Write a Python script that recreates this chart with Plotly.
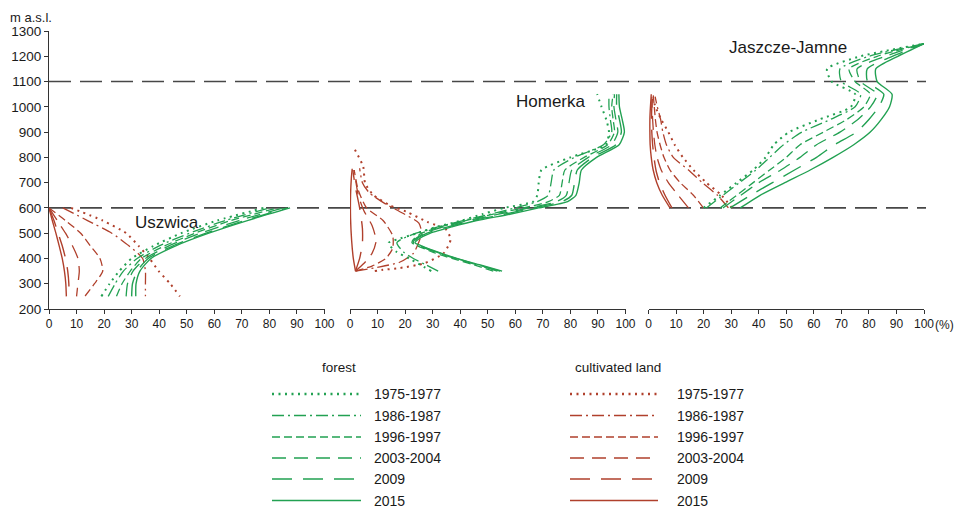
import plotly.graph_objects as go

# The page body adds an 8px margin, so the figure is laid out 8px smaller
OFF = 8
W, H = 966 - OFF, 509 - OFF
GREEN = "#22a152"
RED = "#b0402c"
FONT = "Liberation Sans, Arial, sans-serif"
TXT = "#1a1a1a"

PERIODS = ["1975-1977", "1986-1987", "1996-1997", "2003-2004", "2009", "2015"]

# ---------------- Uszwica ----------------
usz_forest_h = [250, 300, 350, 400, 450, 500, 550, 600]
usz_forest_1975 = [19, 22, 25.5, 30, 38, 48, 61, 78]
usz_forest_1986 = [21.5, 24, 27, 32, 40, 51, 64, 80]
usz_forest_1996 = [24.5, 26.5, 29.5, 33.5, 42, 53, 66, 83]
usz_forest_2003 = [28, 28.5, 30.5, 35, 43.5, 55, 69, 85]
usz_forest_2009 = [30, 30.3, 32, 36, 45, 57, 71, 86.5]
usz_forest_2015 = [31.5, 31.6, 33, 37, 46, 58, 72, 87.5]

usz_cult_h = [600, 550, 500, 450, 400, 350, 300, 250]
usz_cult_1975 = [8, 19.5, 28, 32.5, 36.5, 39.8, 44, 47.5]
usz_cult_1986 = [5, 14, 22.8, 29, 34, 35, 35, 35]
usz_cult_1996 = [0, 6, 11.5, 15, 18.5, 19.5, 16.5, 13]
usz_cult_2003 = [0, 3, 6, 8.5, 10.5, 11, 10.5, 10]
usz_cult_2009 = [0, 1.8, 3.3, 4.8, 6, 6.8, 7.2, 7.2]
usz_cult_2015 = [0, 1.2, 2.5, 3.7, 4.8, 5.6, 6.1, 6.3]

# ---------------- Homerka ----------------
hom_forest_h = [350, 375, 400, 425, 450, 462, 475, 500, 525, 550, 575, 600, 625, 650,
                700, 750, 800, 850, 900, 950, 1000, 1050]
hom_forest_1975 = [29.5, 25.5, 21.5, 17, 14.5, 14, 17, 24.5, 31.5, 40.5, 48, 56, 66.5, 68,
                   68.5, 69.5, 80, 92.8, 94, 93, 91.3, 89.7]
hom_forest_1986 = [32, 27.5, 23, 19.5, 17.5, 17, 18.5, 24, 32, 41, 51, 60, 68, 72,
                   73, 74, 81.5, 92, 95, 94.5, 94, 94]
hom_forest_1996 = [52, 45, 37, 30, 24.5, 22.5, 23, 26, 33, 42, 52, 63, 72, 76,
                   77, 78, 85, 93.5, 96, 95.5, 95, 95.5]
hom_forest_2003 = [53.5, 46, 38, 31, 25, 23, 23.5, 27, 34, 43, 54, 65, 75, 78.5,
                   79.5, 80.5, 86.5, 95, 97.2, 96.5, 95.8, 96]
hom_forest_2009 = [54.5, 46.5, 38.5, 31.5, 25.5, 23.3, 24, 28, 35.5, 44.5, 56, 66.5, 77, 80.5,
                   81.5, 82.5, 88, 96.5, 98.5, 97.8, 96.8, 96.8]
hom_forest_2015 = [55.2, 47, 38.8, 32, 26, 23.6, 24.7, 29.2, 37, 46, 58, 68.5, 79, 82,
                   83.2, 84, 89.5, 97.7, 99.6, 98.8, 97.8, 97.6]

hom_cult_1975_h = [350, 355, 362, 381, 421, 474, 513, 545, 585, 610, 651, 697, 763, 842]
hom_cult_1975 = [9, 12, 18, 27, 34, 36.5, 35, 28, 20.5, 14.5, 8.5, 5.5, 4.8, 1.2]
hom_cult_1986_h = [350, 365, 385, 420, 465, 500, 540, 580, 615, 660, 700, 757]
hom_cult_1986 = [2, 10, 18, 23, 25, 26, 25, 19, 13, 7, 4.5, 3.5]
hom_cult_1996_h = [350, 370, 400, 440, 490, 550, 600, 670, 750]
hom_cult_1996 = [2, 8, 13, 15.5, 15.5, 12, 6, 3, 1.5]
hom_cult_2003_h = [350, 380, 420, 470, 530, 590, 650, 750]
hom_cult_2003 = [2, 5, 8, 9.5, 8, 5, 3, 1.5]
hom_cult_2009_h = [350, 400, 460, 520, 600, 680, 750]
hom_cult_2009 = [2, 3.5, 4.5, 4.5, 3.5, 2, 1]
hom_cult_2015_h = [350, 400, 470, 560, 650, 720, 755]
hom_cult_2015 = [2, 1.2, 0.6, 0.2, 0.2, 0.5, 0.8]

# ---------------- Jaszcze-Jamne ----------------
jj_forest_h = [600, 650, 700, 750, 800, 850, 900, 950, 1000, 1050, 1100, 1150, 1200, 1250]
jj_forest_1975 = [20, 26, 32, 38, 42.5, 45.5, 51, 62, 73.5, 75, 66.5, 64.8, 77, 100]
jj_forest_1986 = [21, 27, 33, 39, 44, 49, 55.7, 66, 75, 77, 70, 69.5, 80, 100]
jj_forest_1996 = [26, 32, 38, 44, 50, 55, 63.5, 72, 78.2, 80.5, 75, 72.8, 83, 100]
jj_forest_2003 = [27, 33.5, 40, 48, 55, 61, 69.5, 76, 80.6, 83, 77, 75.7, 86, 100]
jj_forest_2009 = [29.6, 37, 45, 53, 61, 67.5, 75.5, 80, 83.6, 85.4, 79.5, 79.4, 88.5, 100]
jj_forest_2015 = [33.3, 40.5, 49.5, 58.7, 67, 74.5, 80.5, 84.5, 87.5, 88.4, 83, 82.5, 90.5, 100]

jj_cult_1975_h = [600, 650, 700, 750, 800, 850, 900, 950, 1000, 1020]
jj_cult_1975 = [30.3, 26.5, 21, 16.3, 12.5, 9.5, 7.2, 4.6, 2.5, 2]
jj_cult_1986_h = [600, 650, 700, 750, 800, 850, 900, 950, 1000, 1040]
jj_cult_1986 = [29, 25, 19.5, 14.5, 9, 6.5, 5.2, 4.4, 3.2, 2.4]
jj_cult_1996_h = [600, 650, 700, 750, 800, 850, 900, 950, 1000, 1050]
jj_cult_1996 = [19.9, 16.3, 11.5, 7.8, 5.6, 4.2, 3.1, 2.5, 2.1, 1.7]
jj_cult_2003_h = [600, 650, 700, 750, 800, 850, 900, 950, 1000, 1040]
jj_cult_2003 = [14.5, 10.8, 7.2, 4.6, 3.1, 2.3, 1.8, 1.5, 1.3, 1.2]
jj_cult_2009_h = [600, 650, 700, 750, 800, 850, 900, 950, 1000, 1045]
jj_cult_2009 = [8.5, 6, 4, 2.7, 2, 1.5, 1.2, 1.1, 1.2, 1.5]
jj_cult_2015_h = [600, 650, 700, 750, 800, 850, 900, 950, 1000, 1050]
jj_cult_2015 = [7.8, 5, 3, 1.7, 1, 0.6, 0.5, 0.5, 0.7, 1]

x_ticks = [0, 10, 20, 30, 40, 50, 60, 70, 80, 90, 100]
y_ticks = [200, 300, 400, 500, 600, 700, 800, 900, 1000, 1100, 1200, 1300]
ref_levels = [600, 1100]
panel_titles = ["Uszwica", "Homerka", "Jaszcze-Jamne"]
panel_title_pos = [(43, 544), (73, 1023), (50.5, 1233)]

# styles
DASHES = ["2px,4.5px", "12px,4px,2px,4px", "8px,4px", "14px,8px", "20px,11px", "solid"]
WIDTHS = [2.0, 1.3, 1.3, 1.3, 1.4, 1.4]

fig = go.Figure()

def add(xax, vals, hs, color, i):
    fig.add_trace(go.Scatter(
        x=vals, y=hs, xaxis=xax, yaxis="y", mode="lines",
        line=dict(color=color, width=WIDTHS[i], dash=DASHES[i], shape="spline", smoothing=0.6),
        showlegend=False, hoverinfo="skip"))

usz_f = [usz_forest_1975, usz_forest_1986, usz_forest_1996, usz_forest_2003, usz_forest_2009, usz_forest_2015]
usz_c = [usz_cult_1975, usz_cult_1986, usz_cult_1996, usz_cult_2003, usz_cult_2009, usz_cult_2015]
hom_f = [hom_forest_1975, hom_forest_1986, hom_forest_1996, hom_forest_2003, hom_forest_2009, hom_forest_2015]
hom_c = [(hom_cult_1975, hom_cult_1975_h), (hom_cult_1986, hom_cult_1986_h), (hom_cult_1996, hom_cult_1996_h),
         (hom_cult_2003, hom_cult_2003_h), (hom_cult_2009, hom_cult_2009_h), (hom_cult_2015, hom_cult_2015_h)]
jj_f = [jj_forest_1975, jj_forest_1986, jj_forest_1996, jj_forest_2003, jj_forest_2009, jj_forest_2015]
jj_c = [(jj_cult_1975, jj_cult_1975_h), (jj_cult_1986, jj_cult_1986_h), (jj_cult_1996, jj_cult_1996_h),
        (jj_cult_2003, jj_cult_2003_h), (jj_cult_2009, jj_cult_2009_h), (jj_cult_2015, jj_cult_2015_h)]

for i in range(6):
    add("x", usz_c[i], usz_cult_h, RED, i)
    add("x2", hom_c[i][0], hom_c[i][1], RED, i)
    add("x3", jj_c[i][0], jj_c[i][1], RED, i)
for i in range(6):
    add("x", usz_f[i], usz_forest_h, GREEN, i)
    add("x2", hom_f[i], hom_forest_h, GREEN, i)
    add("x3", jj_f[i], jj_forest_h, GREEN, i)

# helpers: screen pixel (in the 966x509 window) -> paper fraction
def px(x):
    return (x - OFF) / W

def py(y):
    return 1 - (y - OFF) / H

shapes = []
for lv in ref_levels:
    shapes.append(dict(type="line", xref="paper", yref="y", x0=px(49), x1=px(926), y0=lv, y1=lv,
                       line=dict(color="#474747", width=1.6, dash="22px,9px"), layer="below"))

annotations = []
for (tx, ty), t, xr in zip(panel_title_pos, panel_titles, ["x", "x2", "x3"]):
    annotations.append(dict(text=t, x=tx, y=ty, xref=xr, yref="y", showarrow=False,
                            font=dict(family=FONT, size=17, color=TXT)))
annotations.append(dict(text="m a.s.l.", x=px(9), y=py(8.5), xref="paper", yref="paper",
                        xanchor="left", yanchor="top", showarrow=False, borderpad=0,
                        font=dict(family=FONT, size=13, color=TXT)))
annotations.append(dict(text="(%)", x=px(933), y=py(325), xref="paper", yref="paper",
                        xanchor="left", yanchor="middle", showarrow=False,
                        font=dict(family=FONT, size=12, color=TXT)))

# legend (drawn)
rows_y = [394, 415.5, 437, 458, 479, 500.5]
for (title, tx, x0, x1, lx, col) in [("forest", 320, 272, 361, 372, GREEN),
                                     ("cultivated land", 618, 570, 658, 675, RED)]:
    annotations.append(dict(text=title, x=px(tx), y=py(377), xref="paper", yref="paper",
                            showarrow=False, font=dict(family=FONT, size=13.5, color=TXT)))
    for i, ry in enumerate(rows_y):
        shapes.append(dict(type="line", xref="paper", yref="paper", x0=px(x0), x1=px(x1),
                           y0=py(ry), y1=py(ry),
                           line=dict(color=col, width=WIDTHS[i] + 0.3, dash=DASHES[i])))
        annotations.append(dict(text=PERIODS[i], x=px(lx), y=py(ry), xref="paper", yref="paper",
                                xanchor="left", yanchor="middle", showarrow=False,
                                font=dict(family=FONT, size=14, color=TXT)))

xcommon = dict(range=[0, 100], tickvals=x_ticks, ticks="outside", ticklen=4, tickwidth=1,
               tickcolor="#333", showline=True, linecolor="#333", linewidth=1,
               showgrid=False, zeroline=False, anchor="y", automargin=False,
               tickfont=dict(family=FONT, size=12, color=TXT))

fig.update_layout(
    width=W, height=H, margin=dict(l=0, r=0, t=0, b=0, autoexpand=False),
    paper_bgcolor="white", plot_bgcolor="white",
    xaxis=dict(domain=[px(49), px(324.5)], **xcommon),
    xaxis2=dict(domain=[px(350), px(625.5)], **xcommon),
    xaxis3=dict(domain=[px(648.5), px(924)], **xcommon),
    yaxis=dict(domain=[py(309), py(31)], range=[200, 1300], tickvals=y_ticks,
               ticks="outside", ticklen=4, tickwidth=1, tickcolor="#333",
               showline=True, linecolor="#333", linewidth=1, showgrid=False, zeroline=False,
               anchor="x", automargin=False, tickfont=dict(family=FONT, size=13.5, color=TXT)),
    shapes=shapes, annotations=annotations, showlegend=False,
)

fig.write_html("out.html")
